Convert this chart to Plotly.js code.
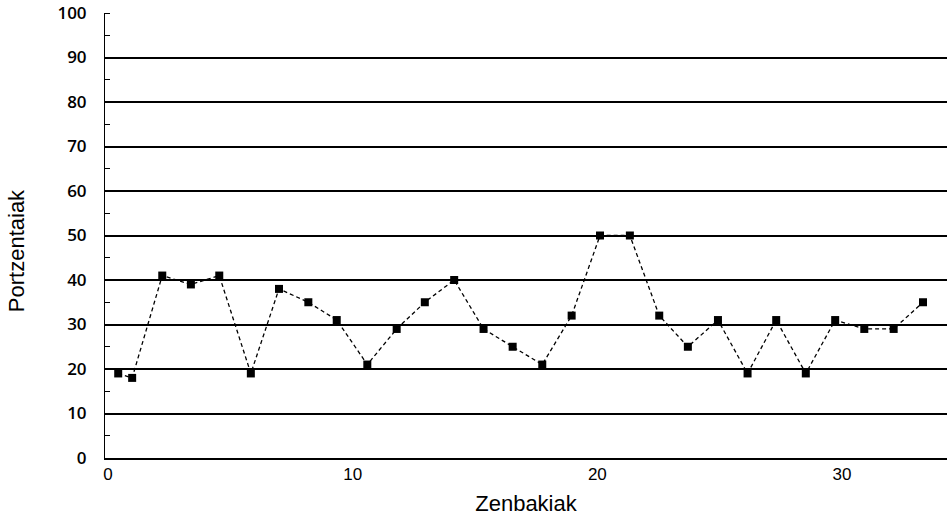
<!DOCTYPE html>
<html>
<head>
<meta charset="utf-8">
<script src="https://cdn.plot.ly/plotly-3.0.1.min.js"></script>
<style>html,body{margin:0;padding:0;background:#fff}#chart{width:947px;height:516px}</style>
</head>
<body>
<div id="chart"></div>
<script>
const xValues = [0.42, 0.99, 2.22, 3.39, 4.55, 5.84, 6.99, 8.19, 9.35, 10.60, 11.80, 12.95, 14.15, 15.35, 16.54, 17.75, 18.95, 20.11, 21.33, 22.53, 23.70, 24.93, 26.14, 27.31, 28.52, 29.72, 30.91, 32.11, 33.31];
const yValues = [19, 18, 41, 39, 41, 19, 38, 35, 31, 21, 29, 35, 40, 29, 25, 21, 32, 50, 50, 32, 25, 31, 19, 31, 19, 31, 29, 29, 35];
const xTickVals = [0, 10, 20, 30];
const yTickVals = [0, 10, 20, 30, 40, 50, 60, 70, 80, 90, 100];
const xTitle = "Zenbakiak";
const yTitle = "Portzentaiak";

const trace = {
  x: xValues, y: yValues, type: 'scatter', mode: 'lines+markers',
  line: {color: '#000', width: 1.3, dash: '4px,3px'},
  marker: {symbol: 'square', size: 8, color: '#000'},
  hoverinfo: 'skip'
};
const layout = {
  width: 947, height: 516,
  margin: {l: 105, r: 0, t: 13, b: 58},
  paper_bgcolor: '#fff', plot_bgcolor: '#fff',
  showlegend: false,
  xaxis: {
    range: [-0.12, 34.29], tickvals: xTickVals, ticktext: xTickVals.map(String),
    showgrid: false, zeroline: false, showline: true, linecolor: '#000', linewidth: 2,
    ticks: '', ticklabelstandoff: 0,
    tickfont: {family: 'Liberation Sans, Arial, sans-serif', size: 17, color: '#000'},
    title: {text: xTitle, standoff: 12, font: {family: 'Liberation Sans, Arial, sans-serif', size: 22, color: '#000'}}
  },
  yaxis: {
    range: [0, 100], tickvals: yTickVals, ticktext: yTickVals.map(String),
    showgrid: true, gridcolor: '#000', gridwidth: 2,
    zeroline: false, showline: true, linecolor: '#000', linewidth: 1,
    ticks: '', ticklabelstandoff: 14,
    minor: {dtick: 5, tick0: 0, ticks: 'inside', ticklen: 5, tickcolor: '#000', tickwidth: 1, showgrid: false},
    tickfont: {family: 'Open Sans, sans-serif', size: 17, color: '#000', weight: 600}
  },
  annotations: [{
    text: yTitle, textangle: -90, showarrow: false,
    xref: 'paper', yref: 'paper', x: -0.1057, y: 0.4648, xanchor: 'center', yanchor: 'middle',
    font: {family: 'Liberation Sans, Arial, sans-serif', size: 22, color: '#000'}
  }]
};
Plotly.newPlot('chart', [trace], layout, {displayModeBar: false, staticPlot: true});
</script>
</body>
</html>
